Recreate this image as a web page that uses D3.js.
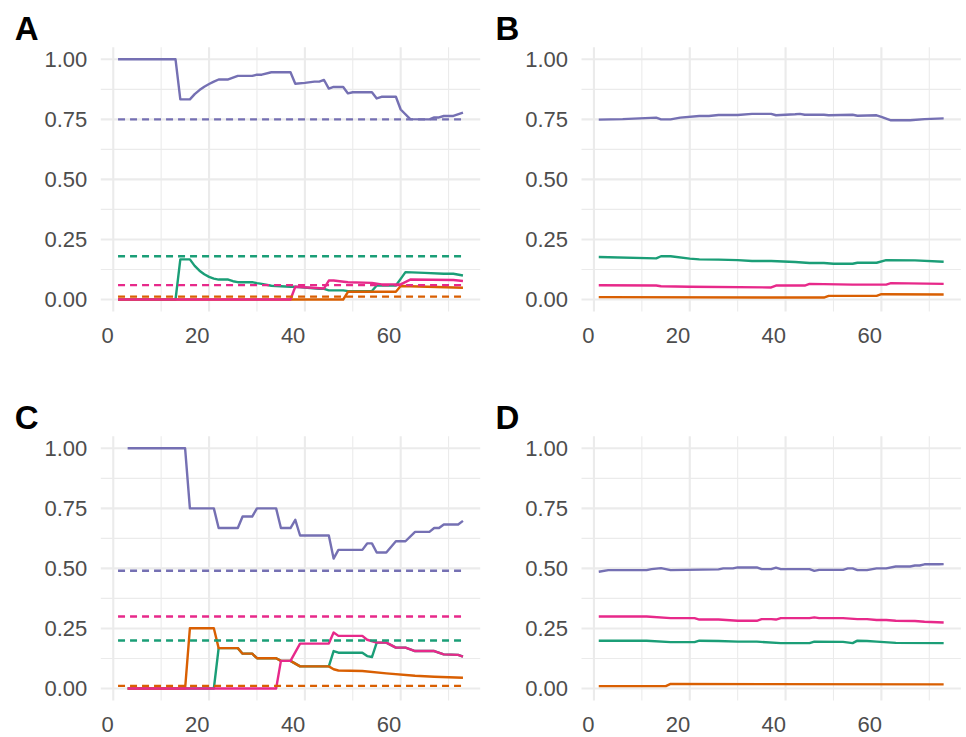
<!DOCTYPE html>
<html><head><meta charset="utf-8">
<script src="https://cdn.jsdelivr.net/npm/d3@7"></script>
<style>body{margin:0;background:#fff}svg{display:block}</style>
</head><body><svg id="c" width="966" height="737"></svg>
<script>
// Series order: green, orange, purple, pink (Dark2)
const seriesNames = ["green", "orange", "purple", "pink"];
const seriesColors = ["#1B9E77", "#D95F02", "#7570B3", "#E7298A"];
const xTicks = [0, 20, 40, 60];
const xMinor = [10, 30, 50, 70];
const yTicks = [0, 0.25, 0.5, 0.75, 1];
const yMinor = [0.125, 0.375, 0.625, 0.875];
const panelTags = ["A", "B", "C", "D"];

// Panel A
const aGreen = [[1,0],[13,0],[14,0.167],[16,0.167],[17,0.14],[18,0.12],[19,0.105],[20,0.094],[21,0.087],[22,0.083],[24,0.083],[25,0.076],[26,0.072],[29,0.072],[30,0.068],[31,0.065],[33,0.057],[37,0.053],[38,0.053],[43,0.045],[44,0.044],[45,0.038],[48,0.038],[49,0.035],[54,0.035],[55,0.058],[59,0.058],[60,0.086],[61,0.114],[65,0.111],[69,0.107],[71,0.107],[73,0.1]];
const aOrange = [[1,0],[48,0],[49,0.032],[59,0.032],[60,0.056],[73,0.049]];
const aPurple = [[1,1],[13,1],[14,0.833],[16,0.833],[17,0.855],[18,0.872],[19,0.886],[20,0.897],[21,0.907],[22,0.916],[24,0.916],[26,0.931],[29,0.931],[30,0.936],[31,0.936],[33,0.946],[37,0.946],[38,0.898],[40,0.902],[42,0.907],[43,0.907],[44,0.914],[45,0.878],[46,0.885],[48,0.885],[49,0.858],[50,0.863],[54,0.863],[55,0.837],[56,0.844],[59,0.844],[60,0.791],[62,0.751],[66,0.75],[67,0.758],[68,0.758],[69,0.764],[71,0.764],[73,0.778]];
const aPink = [[1,0],[37,0],[38,0.053],[44,0.046],[45,0.079],[46,0.079],[49,0.072],[54,0.069],[56,0.063],[60,0.063],[62,0.083],[71,0.081],[73,0.077]];
const aRefs = [0.18, 0.012, 0.75, 0.06];

// Panel B
const bGreen = [[1,0.177],[13,0.171],[14,0.18],[16,0.18],[20,0.17],[22,0.167],[26,0.166],[30,0.164],[33,0.16],[37,0.16],[42,0.156],[45,0.152],[48,0.152],[50,0.149],[54,0.149],[55,0.153],[59,0.153],[61,0.164],[67,0.163],[73,0.157]];
const bOrange = [[1,0.01],[48,0.008],[49,0.015],[59,0.015],[60,0.022],[73,0.021]];
const bPurple = [[1,0.749],[6,0.751],[13,0.757],[14,0.75],[16,0.75],[18,0.757],[22,0.764],[24,0.764],[26,0.768],[30,0.768],[33,0.773],[37,0.773],[38,0.767],[42,0.771],[43,0.773],[44,0.769],[48,0.769],[49,0.767],[54,0.769],[55,0.765],[59,0.767],[60,0.76],[62,0.746],[66,0.746],[69,0.751],[73,0.754]];
const bPink = [[1,0.059],[13,0.058],[14,0.055],[20,0.053],[37,0.05],[38,0.058],[44,0.058],[45,0.065],[54,0.062],[61,0.062],[62,0.068],[73,0.065]];

// Panel C
const cGreen = [[3,0],[21,0],[22,0.168],[26,0.168],[27,0.145],[29,0.145],[30,0.126],[34,0.126],[35,0.115],[37,0.115],[39,0.092],[45,0.092],[46,0.156],[47,0.149],[52,0.149],[53,0.135],[54,0.131],[55,0.191],[57,0.191],[59,0.17],[61,0.17],[63,0.156],[67,0.156],[69,0.142],[72,0.14],[73,0.133]];
const cOrange = [[3,0],[15,0],[16,0.251],[21,0.251],[22,0.168],[26,0.168],[27,0.145],[29,0.145],[30,0.126],[34,0.126],[35,0.115],[37,0.115],[39,0.092],[45,0.092],[46,0.08],[47,0.075],[52,0.073],[57,0.063],[63,0.053],[67,0.049],[73,0.045]];
const cPurple = [[3,1],[15,1],[16,0.75],[21,0.75],[22,0.668],[26,0.668],[27,0.716],[29,0.716],[30,0.75],[34,0.75],[35,0.668],[37,0.668],[38,0.702],[39,0.637],[45,0.637],[46,0.541],[47,0.577],[52,0.577],[53,0.604],[54,0.604],[55,0.566],[57,0.566],[59,0.613],[61,0.613],[63,0.652],[66,0.652],[67,0.668],[68,0.668],[69,0.683],[72,0.683],[73,0.698]];
const cPink = [[3,0],[34,0],[35,0.115],[37,0.115],[39,0.187],[45,0.187],[46,0.233],[47,0.219],[52,0.219],[53,0.203],[55,0.191],[57,0.191],[59,0.17],[61,0.17],[63,0.156],[67,0.156],[69,0.142],[72,0.14],[73,0.133]];
const cRefs = [0.2, 0.011, 0.49, 0.3];

// Panel D
const dGreen = [[1,0.199],[11,0.199],[16,0.193],[21,0.193],[22,0.199],[26,0.198],[30,0.195],[34,0.195],[39,0.189],[45,0.189],[46,0.195],[52,0.194],[54,0.189],[55,0.199],[57,0.198],[59,0.195],[63,0.19],[73,0.189]];
const dOrange = [[1,0.01],[15,0.01],[16,0.019],[73,0.017]];
const dPurple = [[1,0.486],[3,0.493],[11,0.493],[12,0.497],[14,0.501],[16,0.493],[26,0.496],[27,0.5],[29,0.5],[30,0.504],[34,0.504],[35,0.497],[37,0.497],[38,0.503],[39,0.497],[45,0.497],[46,0.49],[47,0.494],[52,0.494],[53,0.5],[54,0.5],[55,0.493],[57,0.493],[59,0.5],[61,0.5],[63,0.508],[66,0.508],[67,0.512],[68,0.512],[69,0.517],[72,0.517],[73,0.518]];
const dPink = [[1,0.3],[11,0.3],[16,0.293],[21,0.293],[22,0.287],[26,0.287],[30,0.282],[34,0.282],[35,0.289],[37,0.289],[38,0.287],[39,0.293],[45,0.293],[46,0.296],[47,0.293],[52,0.293],[55,0.289],[57,0.289],[59,0.285],[61,0.285],[63,0.282],[67,0.281],[69,0.278],[73,0.275]];

const panels = [
  {tag: "A", series: [aGreen, aOrange, aPurple, aPink], refs: aRefs, left: 100.8, top: 47.3},
  {tag: "B", series: [bGreen, bOrange, bPurple, bPink], refs: null, left: 581.5, top: 47.3},
  {tag: "C", series: [cGreen, cOrange, cPurple, cPink], refs: cRefs, left: 100.8, top: 436.3},
  {tag: "D", series: [dGreen, dOrange, dPurple, dPink], refs: null, left: 581.5, top: 436.3}
];
const pw = 379.4, ph = 264.2;
const xDom = [1, 73], yDom = [0, 1];
const xPad = (xDom[1]-xDom[0])*0.05, yPad = (yDom[1]-yDom[0])*0.05;

const svg = d3.select("#c");
const font = "'Liberation Sans', Arial, sans-serif";

panels.forEach(p => {
  const g = svg.append("g").attr("transform", `translate(${p.left},${p.top})`);
  const x = d3.scaleLinear().domain([xDom[0]-xPad, xDom[1]+xPad]).range([0, pw]);
  const y = d3.scaleLinear().domain([yDom[0]-yPad, yDom[1]+yPad]).range([ph, 0]);

  // minor grid
  g.selectAll(".xm").data(xMinor).join("line")
    .attr("x1", d => x(d)).attr("x2", d => x(d)).attr("y1", 0).attr("y2", ph)
    .attr("stroke", "#EBEBEB").attr("stroke-width", 1.1);
  g.selectAll(".ym").data(yMinor).join("line")
    .attr("y1", d => y(d)).attr("y2", d => y(d)).attr("x1", 0).attr("x2", pw)
    .attr("stroke", "#EBEBEB").attr("stroke-width", 1.1);
  // major grid
  g.selectAll(".xM").data(xTicks).join("line")
    .attr("x1", d => x(d)).attr("x2", d => x(d)).attr("y1", 0).attr("y2", ph)
    .attr("stroke", "#EBEBEB").attr("stroke-width", 2.1);
  g.selectAll(".yM").data(yTicks).join("line")
    .attr("y1", d => y(d)).attr("y2", d => y(d)).attr("x1", 0).attr("x2", pw)
    .attr("stroke", "#EBEBEB").attr("stroke-width", 2.1);

  // axes labels
  const yAxis = d3.axisLeft(y).tickValues(yTicks).tickFormat(d3.format(".2f")).tickSize(0).tickPadding(13.5);
  const ya = g.append("g").call(yAxis);
  ya.select(".domain").remove();
  ya.selectAll("text").attr("font-family", font).attr("font-size", 22).attr("fill", "#4D4D4D");

  const xAxis = d3.axisBottom(x).tickValues(xTicks).tickFormat(d3.format("d")).tickSize(0);
  const xa = g.append("g").attr("transform", `translate(0,${y(0)})`).call(xAxis);
  xa.select(".domain").remove();
  xa.selectAll("text").attr("font-family", font).attr("font-size", 22).attr("fill", "#4D4D4D")
    .attr("text-anchor", "end").attr("dy", null).attr("y", 44);

  const line = d3.line().x(d => x(d[0])).y(d => y(d[1]));
  p.series.forEach((s, i) => {
    g.append("path").datum(s).attr("d", line).attr("fill", "none")
      .attr("stroke", seriesColors[i]).attr("stroke-width", 2.4)
      .attr("stroke-linejoin", "round").attr("stroke-linecap", "butt");
  });
  if (p.refs) {
    p.refs.forEach((r, i) => {
      g.append("path").datum([[xDom[0], r], [xDom[1], r]]).attr("d", line).attr("fill", "none")
        .attr("stroke", seriesColors[i]).attr("stroke-width", 2.4)
        .attr("stroke-dasharray", "7,5");
    });
  }

  svg.append("text").attr("x", p.left - 86).attr("y", p.top - 7.5)
    .attr("font-family", font).attr("font-weight", "bold").attr("font-size", 33)
    .attr("fill", "#000").text(p.tag);
});
</script></body></html>
